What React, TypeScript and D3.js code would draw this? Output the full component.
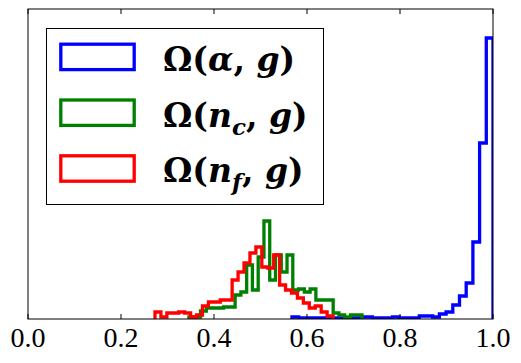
import React, { useEffect, useRef } from "react";
import * as d3 from "d3";

const xTicks = [0, 0.2, 0.4, 0.6, 0.8, 1.0];

// each histogram: data range (first and last bin edge) and the counts per bin
const alphaRange = [0.5677, 1.0];
const alphaCounts = [
  2, 1, 1, 1, 1, 1, 1, 1, 1, 1, 2, 2, 1, 1, 1, 2, 1, 1, 1, 3, 3, 2, 5, 7, 14,
  23, 36, 77, 176, 281,
];

const ncRange = [0.3462, 0.7183];
const ncCounts = [
  2, 2, 8, 11, 11, 11, 12, 12, 24, 27, 54, 29, 62, 98, 39, 64, 47, 64, 29, 30,
  27, 30, 19, 19, 19, 6, 4, 2, 4, 4,
];

const nfRange = [0.2731, 0.656];
const nfCounts = [
  7, 2, 6, 6, 7, 6, 2, 4, 13, 17, 17, 19, 19, 39, 47, 56, 66, 72, 52, 51, 64,
  34, 29, 26, 21, 16, 11, 13, 7, 3,
];

const seriesColors = ["#0000ff", "#008000", "#ff0000"];

// legend labels, [text, italic, subscript]
const legendLabels = [
  [["\u03a9(", false, false], ["\u03b1", true, false], [", ", false, false], ["g", true, false], [")", false, false]],
  [["\u03a9(", false, false], ["n", true, false], ["c", true, true], [", ", false, false], ["g", true, false], [")", false, false]],
  [["\u03a9(", false, false], ["n", true, false], ["f", true, true], [", ", false, false], ["g", true, false], [")", false, false]],
];

const tickFont = "'Liberation Serif', 'DejaVu Serif', serif";
const legendFont = "'DejaVu Serif', serif";

const W = 521;
const H = 363;
const margin = { top: 9, right: 28, bottom: 44, left: 28 };

function Chart() {
  const ref = useRef<SVGSVGElement>(null);

  useEffect(() => {
    const svg = d3.select(ref.current);
    svg.selectAll("*").remove();

    const width = W - margin.left - margin.right;
    const height = H - margin.top - margin.bottom;

    const x = d3.scaleLinear().domain([0, 1]).range([margin.left, margin.left + width]);
    const y = d3.scaleLinear().domain([0, 310]).range([margin.top + height, margin.top]);

    svg
      .append("defs")
      .append("clipPath")
      .attr("id", "plotclip")
      .append("rect")
      .attr("x", margin.left)
      .attr("y", margin.top)
      .attr("width", width)
      .attr("height", height);

    const hists = [
      { range: alphaRange, counts: alphaCounts },
      { range: ncRange, counts: ncCounts },
      { range: nfRange, counts: nfCounts },
    ];

    const g = svg.append("g").attr("clip-path", "url(#plotclip)");

    hists.forEach((h, i) => {
      const n = h.counts.length;
      const edge = d3.scaleLinear().domain([0, n]).range(h.range);
      // step outline, open at the bottom
      const pts: [number, number][] = [[edge(0), 0]];
      h.counts.forEach((c, k) => {
        pts.push([edge(k), c]);
        pts.push([edge(k + 1), c]);
      });
      pts.push([edge(n), 0]);
      const line = d3
        .line<[number, number]>()
        .x(d => x(d[0]))
        .y(d => y(d[1]));
      g.append("path")
        .attr("d", line(pts))
        .attr("fill", "none")
        .attr("stroke", seriesColors[i])
        .attr("stroke-width", 3.3)
        .attr("stroke-linejoin", "miter");
    });

    // frame
    svg
      .append("rect")
      .attr("x", margin.left)
      .attr("y", margin.top)
      .attr("width", width)
      .attr("height", height)
      .attr("fill", "none")
      .attr("stroke", "#000")
      .attr("stroke-width", 1);

    // ticks inside, bottom and top
    const ticks = svg.append("g");
    xTicks.forEach(t => {
      ticks
        .append("line")
        .attr("x1", x(t))
        .attr("x2", x(t))
        .attr("y1", margin.top + height)
        .attr("y2", margin.top + height - 5)
        .attr("stroke", "#000");
      ticks
        .append("line")
        .attr("x1", x(t))
        .attr("x2", x(t))
        .attr("y1", margin.top)
        .attr("y2", margin.top + 5)
        .attr("stroke", "#000");
      ticks
        .append("text")
        .attr("x", x(t))
        .attr("y", margin.top + height + 28)
        .attr("text-anchor", "middle")
        .style("font-family", tickFont)
        .style("font-size", "28px")
        .text(d3.format(".1f")(t));
    });

    // legend
    const lg = svg.append("g");
    lg.append("rect")
      .attr("x", 46.5)
      .attr("y", 28.5)
      .attr("width", 277)
      .attr("height", 176)
      .attr("fill", "#fff")
      .attr("stroke", "#000")
      .attr("stroke-width", 1);

    legendLabels.forEach((parts, i) => {
      const top = 44.2 + i * 55.8;
      lg.append("rect")
        .attr("x", 60.8)
        .attr("y", top)
        .attr("width", 73.4)
        .attr("height", 25.4)
        .attr("fill", "none")
        .attr("stroke", seriesColors[i])
        .attr("stroke-width", 3.3);
      const txt = lg
        .append("text")
        .attr("x", 163)
        .attr("y", top + 26.5)
        .style("font-family", legendFont)
        .style("font-weight", "bold")
        .style("font-size", "33px");
      let sub = false;
      parts.forEach(([s, it, isSub]) => {
        const ts = txt.append("tspan").text(s as string);
        if (it) ts.style("font-style", "italic");
        if (isSub) {
          ts.style("font-size", "23px").attr("dy", 8);
          sub = true;
        } else if (sub) {
          ts.attr("dy", -8);
          sub = false;
        }
      });
    });
  }, []);

  return (
    <svg
      ref={ref}
      width={W}
      height={H}
      style={{ position: "absolute", left: 0, top: 0, background: "#fff" }}
    />
  );
}

export default function App() {
  return <Chart />;
}
